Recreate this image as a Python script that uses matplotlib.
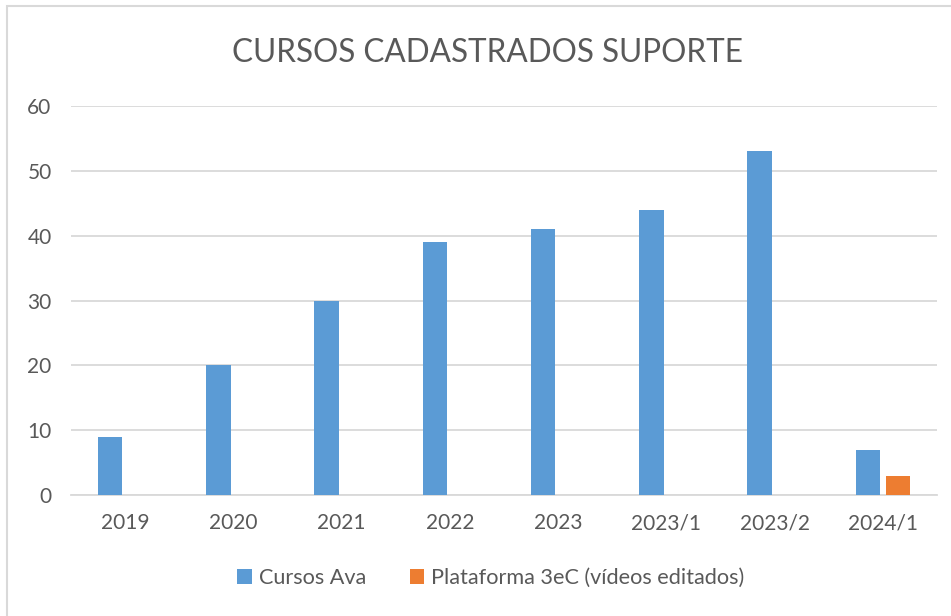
import matplotlib
matplotlib.use("Agg")
import matplotlib.pyplot as plt
import numpy as np

categories = ["2019", "2020", "2021", "2022", "2023", "2023/1", "2023/2", "2024/1"]
cursos_ava = [9, 20, 30, 39, 41, 44, 53, 7]
plataforma = [0, 0, 0, 0, 0, 0, 0, 3]
series_names = ["Cursos Ava", "Plataforma 3eC (vídeos editados)"]
yticks = [0, 10, 20, 30, 40, 50, 60]

plt.rcParams['font.family'] = ['Lato', 'DejaVu Sans']
txt = "#595959"

fig = plt.figure(figsize=(9.51, 6.16), dpi=100)
# chart border
fig.patches.append(plt.Rectangle((7/951, -0.1), 1.2, 1 - 6/616 + 0.1, transform=fig.transFigure,
                                 fill=False, edgecolor="#d9d9d9", linewidth=1.5))
ax = fig.add_axes([71/951, 1 - 495/616, (937 - 71)/951, (495 - 106)/616])

x = np.arange(len(categories))
w = 0.226
off = 0.139
b1 = ax.bar(x - off, cursos_ava, width=w, color="#5b9bd5", label=series_names[0], zorder=3)
b2 = ax.bar(x + off, plataforma, width=w, color="#ed7d31", label=series_names[1], zorder=3)

ax.set_xlim(-0.5, len(categories) - 0.5)
ax.set_ylim(0, 60)
ax.set_yticks(yticks)
ax.set_xticks(x)
ax.set_xticklabels(categories)
ax.yaxis.grid(True, color="#d9d9d9", linewidth=1.3, zorder=0)
for s in ["top", "right", "left"]:
    ax.spines[s].set_visible(False)
ax.spines["bottom"].set_color("#d9d9d9")
ax.spines["bottom"].set_linewidth(1.3)
ax.tick_params(axis="both", length=0, labelsize=15, colors=txt)
ax.tick_params(axis="x", pad=13)
ax.tick_params(axis="y", pad=14)

fig.text(487/951, 1 - 53/616, "CURSOS CADASTRADOS SUPORTE", ha="center", va="center",
         fontsize=22.7, color=txt)

leg = fig.legend(handles=[b1, b2], labels=series_names, loc="center", bbox_to_anchor=(491/951, 1 - 578/616),
                 ncol=2, frameon=False, fontsize=15.6, handlelength=0.65, handleheight=0.65,
                 handletextpad=0.35, columnspacing=2.0)
for t in leg.get_texts():
    t.set_color(txt)

fig.savefig("out.png", dpi=100)
